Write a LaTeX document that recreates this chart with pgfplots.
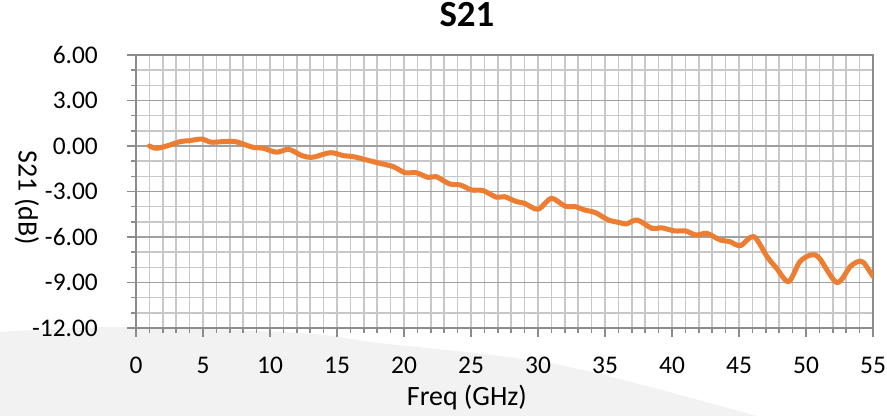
\documentclass[border=0pt]{standalone}
\usepackage{fontspec}
\setmainfont{Carlito}
\usepackage{pgfplots}
\pgfplotsset{compat=1.18}
\definecolor{s21}{HTML}{ED7D31}
\definecolor{bggrey}{HTML}{F2F2F2}
\definecolor{gmaj}{HTML}{A0A0A0}
\definecolor{gmin}{HTML}{C8C8C8}
\definecolor{axgrey}{HTML}{8C8C8C}
\begin{document}
\begin{tikzpicture}
\begin{scope}[x=1bp,y=1bp]
\path[use as bounding box] (0,0) rectangle (887,415);
\fill[bggrey] plot[smooth] coordinates {(0,83) (120,88) (300,82) (380,72) (560,50) (760,-2)} -- (0,-2) -- cycle;
\end{scope}
\begin{axis}[
  at={(136bp,87bp)}, anchor=south west,
  width=737bp, height=273bp, scale only axis,
  xmin=0, xmax=55, ymin=-12, ymax=6,
  xtick={0,5,...,55}, ytick={-12,-9,...,6},
  minor x tick num=4, minor y tick num=2,
  grid=both,
  major x grid style={gmin, line width=1.5bp},
  minor x grid style={gmin, line width=1.5bp},
  major y grid style={gmaj, line width=1.5bp},
  minor y grid style={gmin, line width=1.5bp},
  axis line style={axgrey, line width=1.5bp},
  tick style={axgrey, line width=1.5bp},
  tick align=outside, major tick length=9bp, minor tick length=5bp,
  xtick pos=bottom, ytick pos=left,
  axis background/.style={fill=white},
  /pgf/number format/assume math mode=true,
  y tick label style={/pgf/number format/fixed, /pgf/number format/fixed zerofill, /pgf/number format/precision=2, anchor=east, inner sep=0pt, xshift=-29bp},
  x tick label style={anchor=base, inner sep=0pt, yshift=-36bp},
  tick label style={font=\fontsize{25.5}{30}\selectfont},
  title={S21},
  title style={at={(axis description cs:0.449,1)}, anchor=base, yshift=23bp, inner sep=0pt, font=\fontsize{37}{42}\selectfont\bfseries},
  xlabel={Freq (GHz)},
  xlabel style={at={(axis description cs:0.449,0)}, anchor=base, inner sep=0pt, yshift=-77bp, font=\fontsize{28}{32}\selectfont},
  ylabel={S21 (dB)},
  ylabel style={at={(axis description cs:-0.148,0.476)}, anchor=center, rotate=180, inner sep=0pt, font=\fontsize{28}{32}\selectfont},
]
\addplot[s21, line width=5bp, smooth, line cap=round, line join=round] coordinates {
(1.0,0.0) (1.5,-0.15) (2.3,0.0) (3.3,0.29) (4.0,0.35) (4.9,0.46) (5.6,0.25)
(6.5,0.29) (7.4,0.29) (8.0,0.13) (8.75,-0.09) (9.5,-0.15) (10.5,-0.41)
(11.4,-0.22) (12.4,-0.64) (13.2,-0.74) (14.5,-0.44) (15.5,-0.64) (16.2,-0.70)
(17.2,-0.92) (18.2,-1.14) (19.2,-1.36) (20.07,-1.76) (20.9,-1.76) (21.8,-2.07)
(22.4,-2.02) (23.4,-2.5) (24.2,-2.57) (25.05,-2.9) (25.9,-2.94) (26.9,-3.38)
(27.5,-3.34) (28.4,-3.67) (29.0,-3.78) (30.0,-4.17) (31.0,-3.45) (32.0,-3.96)
(32.8,-4.0) (33.4,-4.2) (34.3,-4.4) (35.25,-4.88) (36.1,-5.05) (36.6,-5.14)
(37.4,-4.88) (38.5,-5.43) (39.2,-5.39) (40.2,-5.6) (41.0,-5.6) (41.8,-5.87)
(42.6,-5.76) (43.6,-6.2) (44.3,-6.3) (45.1,-6.57) (46.1,-5.97) (47.1,-7.3)
(47.8,-8.06) (48.7,-8.94) (49.55,-7.62) (50.4,-7.18) (51.0,-7.4) (52.3,-9.0)
(53.3,-7.95) (53.9,-7.62) (54.3,-7.69) (55.0,-8.6)
};
\end{axis}
\end{tikzpicture}
\end{document}
